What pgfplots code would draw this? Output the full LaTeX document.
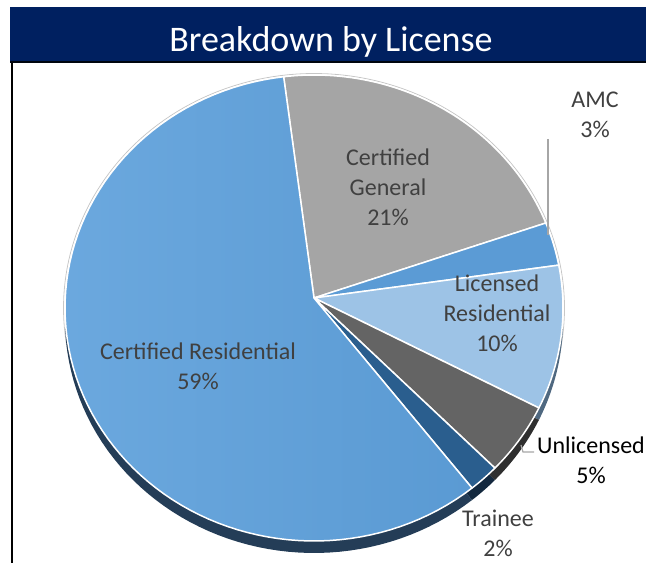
\documentclass[border=0pt]{standalone}
\usepackage{fontspec}
\setmainfont{Carlito}
\usepackage{pgfplots}
\usepackage{pgfplotstable}
\pgfplotsset{compat=1.18}

\definecolor{titlenavy}{HTML}{002060}
\definecolor{lbl}{HTML}{404040}
\definecolor{leader}{HTML}{A6A6A6}
\definecolor{HTML6DAAE0}{HTML}{6BA8DE}
\definecolor{HTML5898D2}{HTML}{5A9AD3}
\definecolor{HTMLA5A5A5}{HTML}{A5A5A5}
\definecolor{HTML5B9BD5}{HTML}{5B9BD5}
\definecolor{HTML9DC3E6}{HTML}{9DC3E6}
\definecolor{HTML646464}{HTML}{646464}
\definecolor{HTML2A5E8E}{HTML}{2A5E8E}
\definecolor{HTML243D57}{HTML}{243D57}
\definecolor{HTML555555}{HTML}{555555}
\definecolor{HTML2E4F70}{HTML}{2E4F70}
\definecolor{HTML4F6880}{HTML}{4F6880}
\definecolor{HTML2F2F2F}{HTML}{2F2F2F}
\definecolor{HTML13283E}{HTML}{13283E}
\tikzset{
  crtop/.style={left color=HTML6DAAE0, right color=HTML5898D2},
  cgtop/.style={fill=HTMLA5A5A5},
  amctop/.style={fill=HTML5B9BD5},
  lrtop/.style={fill=HTML9DC3E6},
  unltop/.style={fill=HTML646464},
  trtop/.style={fill=HTML2A5E8E},
  crside/.style={fill=HTML243D57},
  cgside/.style={fill=HTML555555},
  amcside/.style={fill=HTML2E4F70},
  lrside/.style={fill=HTML4F6880},
  unlside/.style={fill=HTML2F2F2F},
  trside/.style={fill=HTML13283E},
}

% share of each licence type, clockwise from the top
\pgfplotstableread[col sep=comma]{
label,value,top,side
Certified General,21,cgtop,cgside
AMC,3,amctop,amcside
Licensed Residential,10,lrtop,lrside
Unlicensed,5,unltop,unlside
Trainee,2,trtop,trside
Certified Residential,59,crtop,crside
}\slices

% pie geometry in picture pixels
\def\cx{314}\def\cy{255}\def\rx{249}\def\ry{233}
\def\apex{265}\def\depth{12}
\def\firstangle{97}

\begin{document}
\begin{tikzpicture}
\begin{axis}[
  width=646pt, height=563pt, scale only axis,
  xmin=0, xmax=646, ymin=0, ymax=563,
  hide axis, clip=false,
]
% title bar and frame
\fill[titlenavy] (axis cs:10,500) rectangle (axis cs:646,556);
\draw[black!85!titlenavy, line width=2pt] (axis cs:10,501) -- (axis cs:646,501);
\draw[black, line width=1.5pt] (axis cs:12,500) -- (axis cs:12,0);
\node[text=white, font=\fontsize{36}{40}\selectfont, anchor=base] at (axis cs:331,511) {Breakdown by License};

% faint outline round the pie
\addplot[draw=black!22, line width=0.8pt, domain=0:360, samples=200]
  ({\cx+(\rx+1.5)*cos(x)},{\cy+(\ry+1.5)*sin(x)});

% sides (lower rim)
\let\s\firstangle
\pgfplotsforeachungrouped \i in {0,...,5} {
  \pgfplotstablegetelem{\i}{value}\of\slices \let\v\pgfplotsretval
  \pgfplotstablegetelem{\i}{side}\of\slices \let\c\pgfplotsretval
  \pgfmathsetmacro\e{\s-3.6*\v}
  \edef\tmp{\noexpand\addplot[\c, draw=none, domain=\e:\s, samples=90]
    ({\cx+\rx*cos(\noexpand\x)},{\cy-\depth+\ry*sin(\noexpand\x)})
    -- (axis cs:\cx,\apex-\depth) -- cycle;}
  \tmp
  \global\let\s\e
}

% top faces
\let\s\firstangle
\pgfplotsforeachungrouped \i in {0,...,5} {
  \pgfplotstablegetelem{\i}{value}\of\slices \let\v\pgfplotsretval
  \pgfplotstablegetelem{\i}{top}\of\slices \let\c\pgfplotsretval
  \pgfmathsetmacro\e{\s-3.6*\v}
  \edef\tmp{\noexpand\addplot[\c, draw=white, line width=1.5pt, line join=round, domain=\e:\s, samples=90]
    ({\cx+\rx*cos(\noexpand\x)},{\cy+\ry*sin(\noexpand\x)})
    -- (axis cs:\cx,\apex) -- cycle;}
  \tmp
  \global\let\s\e
}

% leader lines
\draw[leader, line width=1.2pt] (axis cs:548,424) -- (axis cs:548,328);
\draw[leader, line width=1.2pt] (axis cs:521,118) -- (axis cs:523,111) -- (axis cs:534,111);

% labels
\begin{scope}[every node/.style={align=center, font=\fontsize{24}{30}\selectfont}]
\node[text=lbl] at (axis cs:198,197) {Certified Residential\\59\%};
\node[text=lbl] at (axis cs:388,376) {Certified\\General\\21\%};
\node[text=lbl] at (axis cs:595,448) {AMC\\3\%};
\node[text=lbl] at (axis cs:497,250) {Licensed\\Residential\\10\%};
\node[text=black] at (axis cs:591,103) {Unlicensed\\5\%};
\node[text=lbl] at (axis cs:498,30) {Trainee\\2\%};
\end{scope}
\end{axis}
\pgfresetboundingbox
\useasboundingbox (0,0) rectangle (646pt,563pt);
\end{tikzpicture}
\end{document}
